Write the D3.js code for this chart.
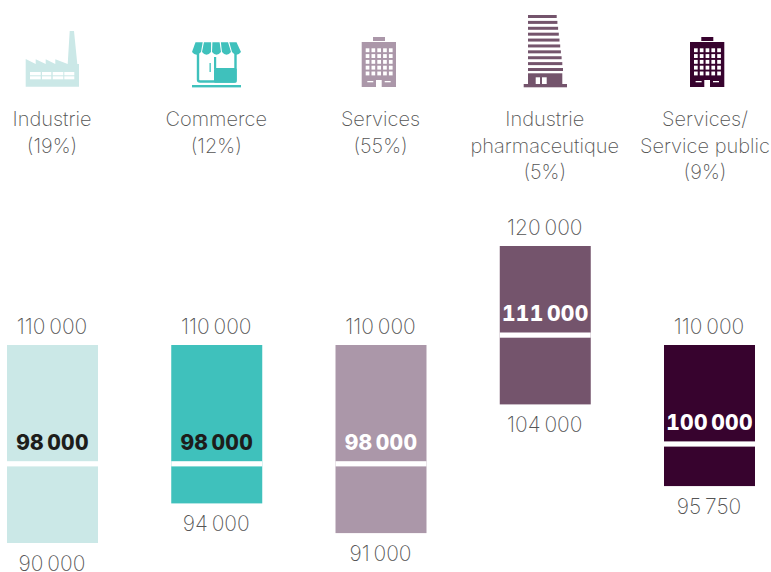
<!DOCTYPE html>
<html xmlns="http://www.w3.org/1999/xhtml">
<head>
    <meta charset="utf-8"/>
    <title>Salaires par secteur</title>
    <style>
        html, body { margin: 0; padding: 0; background: white; overflow: hidden; }
        text { font-family: Inter, "Noto Sans", sans-serif; text-anchor: middle; }
        .sector { fill: #555; font-size: 20px; font-weight: 200; }
        .range { fill: #555; font-size: 21px; font-weight: 200; }
        .median { font-size: 21px; font-weight: 800; letter-spacing: 0.3px; font-variant-numeric: tabular-nums; }
    </style>
</head>
<body>
<script src="https://cdn.jsdelivr.net/npm/d3@7"></script>
<script>
    const categories = ["Industrie", "Commerce", "Services", "Industrie pharmaceutique", "Services/Service public"];
    const labelLines = [["Industrie", "(19%)"], ["Commerce", "(12%)"], ["Services", "(55%)"],
        ["Industrie", "pharmaceutique", "(5%)"], ["Services/", "Service public", "(9%)"]];
    const highs = [110000, 110000, 110000, 120000, 110000];
    const medians = [98000, 98000, 98000, 111000, 100000];
    const lows = [90000, 94000, 91000, 104000, 95750];
    const colors = ["#cbe8e7", "#3fc1bc", "#ab97a9", "#74546c", "#37032e"];
    const medianColors = ["#1d1d1b", "#1d1d1b", "#ffffff", "#ffffff", "#ffffff"];
    const labelShift = [0, 0, 0, 0, -4];

    const svg = d3.select("body").append("svg").attr("width", 771).attr("height", 572);
    const x = d3.scaleBand().domain(categories).range([7, 755]).paddingInner(0.446).paddingOuter(0);
    const y = d3.scaleLinear().domain([90000, 110000]).range([543, 345]);
    const fmt = v => d3.format(",")(v).replace(",", "\u2009");

    const group = svg.selectAll(".sectorGroup")
        .data(categories)
        .enter().append("g")
        .attr("class", "sectorGroup");

    group.append("rect")
        .attr("x", d => x(d))
        .attr("width", x.bandwidth())
        .attr("y", (d, i) => y(highs[i]))
        .attr("height", (d, i) => y(lows[i]) - y(highs[i]))
        .attr("fill", (d, i) => colors[i]);

    // white line on the median
    group.append("rect")
        .attr("x", d => x(d))
        .attr("width", x.bandwidth())
        .attr("y", (d, i) => y(medians[i]) - 2.6)
        .attr("height", 5.2)
        .attr("fill", "white");

    group.append("text")
        .attr("class", "median")
        .attr("x", d => x(d) + x.bandwidth() / 2)
        .attr("y", (d, i) => y(medians[i]) - 14)
        .attr("fill", (d, i) => medianColors[i])
        .text((d, i) => fmt(medians[i]));

    group.append("text")
        .attr("class", "range")
        .attr("x", d => x(d) + x.bandwidth() / 2 - 0.5)
        .attr("y", (d, i) => y(highs[i]) - 11)
        .text((d, i) => fmt(highs[i]));

    group.append("text")
        .attr("class", "range")
        .attr("x", d => x(d) + x.bandwidth() / 2 - 0.5)
        .attr("y", (d, i) => y(lows[i]) + 28)
        .text((d, i) => fmt(lows[i]));

    group.append("text")
        .attr("class", "sector")
        .attr("x", (d, i) => x(d) + x.bandwidth() / 2 + labelShift[i] - 0.5)
        .attr("y", 126)
        .selectAll("tspan")
        .data((d, i) => labelLines[i])
        .enter().append("tspan")
        .attr("x", function () { return this.parentNode.getAttribute("x"); })
        .attr("dy", (d, i) => i ? 26.5 : 0)
        .text(d => d);

    // pictograms
    const factory = svg.append("g").attr("fill", colors[0]);
    factory.append("path").attr("d", "M25.7 59L35.7 64V59.3L45.7 64V59.3L55.3 64V59.3L67.7 64L69.7 31H74L77.3 64H79V86.7H25.7Z");
    [[30, 10.7], [42, 9.3], [52.7, 10.6], [64.3, 10]].forEach(c => {
        [[72, 3.3], [76.3, 3]].forEach(r => {
            factory.append("rect").attr("x", c[0]).attr("width", c[1]).attr("y", r[0]).attr("height", r[1]).attr("fill", "white");
        });
    });

    const shop = svg.append("g").attr("fill", colors[1]);
    shop.append("path").attr("fill", "none").attr("stroke", colors[1]).attr("stroke-width", 2.4)
        .attr("d", "M198 54V79.5Q198 81.5 200 81.5H233.5Q235.5 81.5 235.5 79.5V54");
    shop.append("rect").attr("x", 214).attr("y", 68).attr("width", 22.7).attr("height", 14.7).attr("rx", 1.5);
    shop.append("rect").attr("x", 214).attr("y", 57).attr("width", 2.2).attr("height", 12);
    shop.append("rect").attr("x", 209.5).attr("y", 63).attr("width", 1.3).attr("height", 9);
    shop.append("rect").attr("x", 192).attr("y", 85).attr("width", 49).attr("height", 2.4);
    d3.range(5).forEach(k => {
        const tl = 195.5 + k * 8.45, tr = tl + 7.2;
        const bl = 192 + k * 10, br = bl + 9;
        shop.append("path").attr("d", `M${tl} 42.3H${tr}L${br} 52Q${(bl + br) / 2} 57.5 ${bl} 52Z`);
    });

    function office(dx, color) {
        const g = svg.append("g").attr("transform", `translate(${dx},0)`).attr("fill", color);
        g.append("rect").attr("x", 373).attr("y", 37).attr("width", 12).attr("height", 4);
        g.append("rect").attr("x", 361.7).attr("y", 42).attr("width", 34.3).attr("height", 45);
        d3.range(5).forEach(r => d3.range(5).forEach(c => {
            g.append("rect").attr("x", 365.7 + c * 5.8).attr("y", 48.3 + r * 5.8)
                .attr("width", 3.7).attr("height", 3.9).attr("fill", "white");
        }));
        g.append("rect").attr("x", 376).attr("y", 80).attr("width", 5.7).attr("height", 7).attr("fill", "white");
        g.append("rect").attr("x", 367.3).attr("y", 81).attr("width", 6).attr("height", 1.3).attr("fill", "white");
        g.append("rect").attr("x", 384.7).attr("y", 81).attr("width", 6).attr("height", 1.3).attr("fill", "white");
    }
    office(0, colors[2]);
    office(328.3, colors[4]);

    const tower = svg.append("g").attr("fill", colors[3]);
    d3.range(10).forEach(k => {
        tower.append("rect").attr("x", 528).attr("y", 15 + k * 5.89)
            .attr("width", 28.7 + k * 0.7).attr("height", 3);
    });
    tower.append("rect").attr("x", 528).attr("y", 73.3).attr("width", 34.3).attr("height", 11);
    tower.append("rect").attr("x", 523.7).attr("y", 84).attr("width", 43.3).attr("height", 3.3);
    tower.append("rect").attr("x", 535.7).attr("y", 77.3).attr("width", 4.3).attr("height", 6.7).attr("fill", "white");
    tower.append("rect").attr("x", 542).attr("y", 77.3).attr("width", 4.7).attr("height", 6.7).attr("fill", "white");
</script>
</body>
</html>
